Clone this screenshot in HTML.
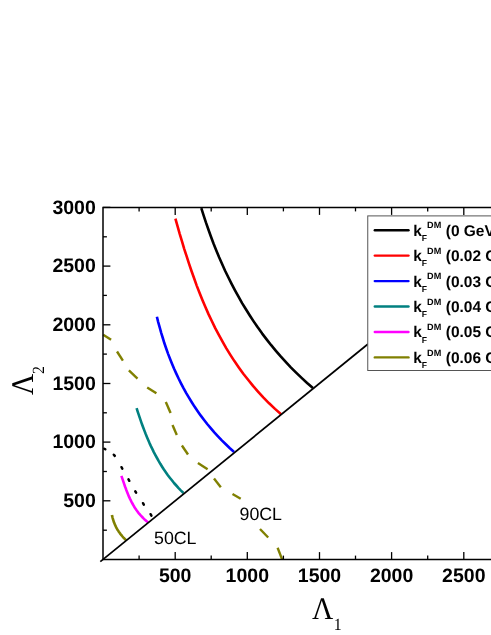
<!DOCTYPE html>
<html lang="en"><head><meta charset="utf-8"><title>Plot</title>
<style>html,body{margin:0;padding:0;background:#fff}svg{display:block;text-rendering:geometricPrecision;will-change:transform;opacity:0.999}</style>
</head><body>
<svg width="491" height="635" viewBox="0 0 491 635">
<rect width="491" height="635" fill="#fff"/>
<g fill="none" stroke-width="2.6" stroke-linecap="butt" stroke-linejoin="round">
<path d="M111.9 514.9 L112.1 515.9 L112.4 516.9 L112.6 518.0 L112.9 519.0 L113.2 519.9 L113.5 520.9 L113.8 521.9 L114.2 522.8 L114.6 523.8 L114.9 524.7 L115.4 525.6 L115.8 526.5 L116.2 527.4 L116.7 528.3 L117.2 529.2 L117.7 530.0 L118.3 530.9 L118.8 531.7 L119.4 532.5 L120.0 533.4 L120.6 534.2 L121.2 535.0 L121.9 535.7 L122.5 536.5 L123.2 537.3 L123.9 538.0 L124.7 538.8 L125.4 539.5 L126.2 540.2" stroke="#808000"/>
<path d="M121.4 475.8 L122.0 477.6 L122.6 479.4 L123.2 481.1 L123.8 482.9 L124.4 484.7 L125.0 486.5 L125.7 488.2 L126.3 490.0 L127.0 491.7 L127.7 493.5 L128.4 495.2 L129.1 496.9 L129.9 498.6 L130.7 500.2 L131.5 501.9 L132.4 503.5 L133.3 505.1 L134.2 506.7 L135.2 508.3 L136.2 509.8 L137.3 511.3 L138.4 512.8 L139.6 514.2 L140.9 515.7 L142.2 517.0 L143.5 518.4 L144.9 519.7 L146.4 521.0 L148.0 522.2" stroke="#ff00ff"/>
<path d="M136.6 408.2 L137.6 411.4 L138.7 414.7 L139.8 417.9 L140.9 421.1 L142.0 424.3 L143.2 427.5 L144.4 430.6 L145.6 433.8 L146.9 436.9 L148.2 440.0 L149.5 443.1 L150.9 446.1 L152.4 449.1 L153.8 452.1 L155.4 455.1 L157.0 458.0 L158.6 460.9 L160.3 463.8 L162.1 466.7 L163.9 469.5 L165.8 472.2 L167.7 475.0 L169.8 477.7 L171.9 480.3 L174.0 483.0 L176.3 485.5 L178.6 488.1 L181.0 490.6 L183.5 493.0" stroke="#008080"/>
<path d="M156.9 316.7 L158.2 322.1 L159.7 327.4 L161.2 332.8 L162.8 338.0 L164.4 343.3 L166.2 348.5 L168.0 353.6 L170.0 358.7 L172.0 363.7 L174.1 368.7 L176.3 373.6 L178.6 378.5 L181.0 383.3 L183.5 388.1 L186.1 392.8 L188.8 397.4 L191.6 402.0 L194.5 406.6 L197.5 411.0 L200.6 415.4 L203.9 419.7 L207.2 424.0 L210.7 428.2 L214.3 432.4 L218.0 436.4 L221.8 440.4 L225.8 444.3 L229.9 448.2 L234.1 452.0" stroke="#0000ff"/>
<path d="M175.4 218.7 L177.6 226.3 L179.7 233.8 L182.0 241.3 L184.2 248.8 L186.6 256.2 L189.0 263.6 L191.5 271.0 L194.1 278.3 L196.7 285.6 L199.5 292.8 L202.4 300.0 L205.4 307.1 L208.5 314.1 L211.8 321.0 L215.1 327.9 L218.7 334.7 L222.4 341.4 L226.2 348.1 L230.2 354.6 L234.4 361.1 L238.8 367.4 L243.3 373.7 L248.1 379.8 L253.0 385.9 L258.2 391.8 L263.5 397.6 L269.1 403.3 L275.0 408.9 L281.1 414.3" stroke="#ff0000"/>
<path d="M201.3 208.1 L203.6 215.3 L205.9 222.4 L208.4 229.5 L210.9 236.5 L213.5 243.5 L216.3 250.4 L219.1 257.2 L222.1 264.0 L225.1 270.7 L228.3 277.3 L231.6 283.8 L235.0 290.3 L238.5 296.7 L242.1 303.1 L245.9 309.3 L249.8 315.5 L253.8 321.6 L257.9 327.6 L262.2 333.6 L266.6 339.4 L271.2 345.2 L275.9 350.8 L280.7 356.4 L285.7 361.9 L290.8 367.3 L296.1 372.6 L301.6 377.9 L307.1 383.0 L312.9 388.0" stroke="#000000"/>
</g>
<g stroke="#808000" stroke-width="2.4" stroke-linecap="butt">
<line x1="103.2" y1="334.7" x2="111.1" y2="339.8"/>
<line x1="117" y1="351.5" x2="122.9" y2="360.7"/>
<line x1="128.9" y1="370.4" x2="137.5" y2="378.7"/>
<line x1="147.2" y1="387.4" x2="156.4" y2="393.3"/>
<line x1="165.8" y1="401.9" x2="170.6" y2="413"/>
<line x1="172.5" y1="425" x2="176.8" y2="435"/>
<line x1="181.9" y1="445.5" x2="188" y2="454.5"/>
<line x1="197.9" y1="463" x2="207.6" y2="469.3"/>
<line x1="214" y1="478.6" x2="220.8" y2="487.2"/>
<line x1="232.5" y1="494" x2="240.7" y2="498.8"/>
<line x1="260" y1="529" x2="268.2" y2="537.5"/>
<line x1="277.6" y1="547.7" x2="282" y2="559.1"/>
</g>
<g stroke="#000" stroke-width="2.5" stroke-linecap="round">
<line x1="104.3" y1="448.7" x2="105.3" y2="449.3"/>
<line x1="113.8" y1="454.7" x2="114.8" y2="455.9"/>
<line x1="121.5" y1="467.2" x2="122.3" y2="468.6"/>
<line x1="128.5" y1="479.4" x2="129.3" y2="480.8"/>
<line x1="135.3" y1="491.3" x2="136.1" y2="492.7"/>
<line x1="143.0" y1="503.2" x2="143.8" y2="504.6"/>
<line x1="150.6" y1="514.2" x2="151.4" y2="515.6"/>
</g>
<line x1="100.3" y1="561.7" x2="368" y2="344.0" stroke="#000" stroke-width="1.7"/>
<g stroke="#000" stroke-width="1.5" fill="none">
<path d="M491 207.5 H103.0 V559.5 H491"/>
</g>
<g stroke="#000" stroke-width="1.3">
<line x1="139.1" y1="559.5" x2="139.1" y2="555.6"/>
<line x1="139.1" y1="207.5" x2="139.1" y2="211.4"/>
<line x1="175.2" y1="559.5" x2="175.2" y2="552.1"/>
<line x1="175.2" y1="207.5" x2="175.2" y2="214.9"/>
<line x1="211.2" y1="559.5" x2="211.2" y2="555.6"/>
<line x1="211.2" y1="207.5" x2="211.2" y2="211.4"/>
<line x1="247.3" y1="559.5" x2="247.3" y2="552.1"/>
<line x1="247.3" y1="207.5" x2="247.3" y2="214.9"/>
<line x1="283.4" y1="559.5" x2="283.4" y2="555.6"/>
<line x1="283.4" y1="207.5" x2="283.4" y2="211.4"/>
<line x1="319.5" y1="559.5" x2="319.5" y2="552.1"/>
<line x1="319.5" y1="207.5" x2="319.5" y2="214.9"/>
<line x1="355.5" y1="559.5" x2="355.5" y2="555.6"/>
<line x1="355.5" y1="207.5" x2="355.5" y2="211.4"/>
<line x1="391.6" y1="559.5" x2="391.6" y2="552.1"/>
<line x1="391.6" y1="207.5" x2="391.6" y2="214.9"/>
<line x1="427.7" y1="559.5" x2="427.7" y2="555.6"/>
<line x1="427.7" y1="207.5" x2="427.7" y2="211.4"/>
<line x1="463.8" y1="559.5" x2="463.8" y2="552.1"/>
<line x1="463.8" y1="207.5" x2="463.8" y2="214.9"/>
<line x1="103.0" y1="530.2" x2="106.9" y2="530.2"/>
<line x1="103.0" y1="500.8" x2="110.4" y2="500.8"/>
<line x1="103.0" y1="471.5" x2="106.9" y2="471.5"/>
<line x1="103.0" y1="442.1" x2="110.4" y2="442.1"/>
<line x1="103.0" y1="412.8" x2="106.9" y2="412.8"/>
<line x1="103.0" y1="383.5" x2="110.4" y2="383.5"/>
<line x1="103.0" y1="354.1" x2="106.9" y2="354.1"/>
<line x1="103.0" y1="324.8" x2="110.4" y2="324.8"/>
<line x1="103.0" y1="295.4" x2="106.9" y2="295.4"/>
<line x1="103.0" y1="266.1" x2="110.4" y2="266.1"/>
<line x1="103.0" y1="236.8" x2="106.9" y2="236.8"/>
<line x1="103.0" y1="207.4" x2="110.4" y2="207.4"/>
</g>
<g font-family="'Liberation Sans', Arial, sans-serif" font-weight="700" font-size="19.5px" fill="#000">
<text x="175.2" y="582.2" text-anchor="middle">500</text>
<text x="247.3" y="582.2" text-anchor="middle">1000</text>
<text x="319.5" y="582.2" text-anchor="middle">1500</text>
<text x="391.6" y="582.2" text-anchor="middle">2000</text>
<text x="463.8" y="582.2" text-anchor="middle">2500</text>
<text x="95.8" y="507.0" text-anchor="end">500</text>
<text x="95.8" y="448.3" text-anchor="end">1000</text>
<text x="95.8" y="389.7" text-anchor="end">1500</text>
<text x="95.8" y="331.0" text-anchor="end">2000</text>
<text x="95.8" y="272.3" text-anchor="end">2500</text>
<text x="95.8" y="213.6" text-anchor="end">3000</text>
</g>
<g font-family="'Liberation Sans', Arial, sans-serif" font-size="17.8px" fill="#000">
<text x="154.0" y="544.3">50CL</text>
<text x="239.5" y="519.5">90CL</text>
</g>
<g font-family="'Liberation Serif', 'Times New Roman', serif" fill="#000">
<text transform="translate(312,619.2) scale(0.935,1)" font-size="31.5px">Λ<tspan font-size="17px" dy="10.5" dx="0.5">1</tspan></text>
<text transform="translate(33.1,395) rotate(-90) scale(0.935,1)" font-size="31.5px">Λ<tspan font-size="17px" dy="10.5" dx="-0.3">2</tspan></text>
</g>
<rect x="367.75" y="215.9" width="140" height="154.6" fill="#fff" stroke="#555" stroke-width="1"/>
<g font-family="'Liberation Sans', Arial, sans-serif" font-weight="700" font-size="15.5px" fill="#000">
<line x1="374.8" y1="230.2" x2="408.5" y2="230.2" stroke="#000000" stroke-width="2.4" stroke-linecap="round"/>
<text x="413.2" y="235.6">k<tspan font-size="8.6px" dy="5.3">F</tspan><tspan font-size="9.1px" dy="-12.5" dx="0">DM</tspan><tspan dy="7.2" dx="0.2"> (0 GeV)</tspan></text>
<line x1="374.8" y1="255.6" x2="408.5" y2="255.6" stroke="#ff0000" stroke-width="2.4" stroke-linecap="round"/>
<text x="413.2" y="261.0">k<tspan font-size="8.6px" dy="5.3">F</tspan><tspan font-size="9.1px" dy="-12.5" dx="0">DM</tspan><tspan dy="7.2" dx="0.2"> (0.02 GeV)</tspan></text>
<line x1="374.8" y1="281.1" x2="408.5" y2="281.1" stroke="#0000ff" stroke-width="2.4" stroke-linecap="round"/>
<text x="413.2" y="286.5">k<tspan font-size="8.6px" dy="5.3">F</tspan><tspan font-size="9.1px" dy="-12.5" dx="0">DM</tspan><tspan dy="7.2" dx="0.2"> (0.03 GeV)</tspan></text>
<line x1="374.8" y1="306.5" x2="408.5" y2="306.5" stroke="#008080" stroke-width="2.4" stroke-linecap="round"/>
<text x="413.2" y="311.9">k<tspan font-size="8.6px" dy="5.3">F</tspan><tspan font-size="9.1px" dy="-12.5" dx="0">DM</tspan><tspan dy="7.2" dx="0.2"> (0.04 GeV)</tspan></text>
<line x1="374.8" y1="332.0" x2="408.5" y2="332.0" stroke="#ff00ff" stroke-width="2.4" stroke-linecap="round"/>
<text x="413.2" y="337.4">k<tspan font-size="8.6px" dy="5.3">F</tspan><tspan font-size="9.1px" dy="-12.5" dx="0">DM</tspan><tspan dy="7.2" dx="0.2"> (0.05 GeV)</tspan></text>
<line x1="374.8" y1="357.4" x2="408.5" y2="357.4" stroke="#808000" stroke-width="2.4" stroke-linecap="round"/>
<text x="413.2" y="362.8">k<tspan font-size="8.6px" dy="5.3">F</tspan><tspan font-size="9.1px" dy="-12.5" dx="0">DM</tspan><tspan dy="7.2" dx="0.2"> (0.06 GeV)</tspan></text>
</g>
</svg>
</body></html>
